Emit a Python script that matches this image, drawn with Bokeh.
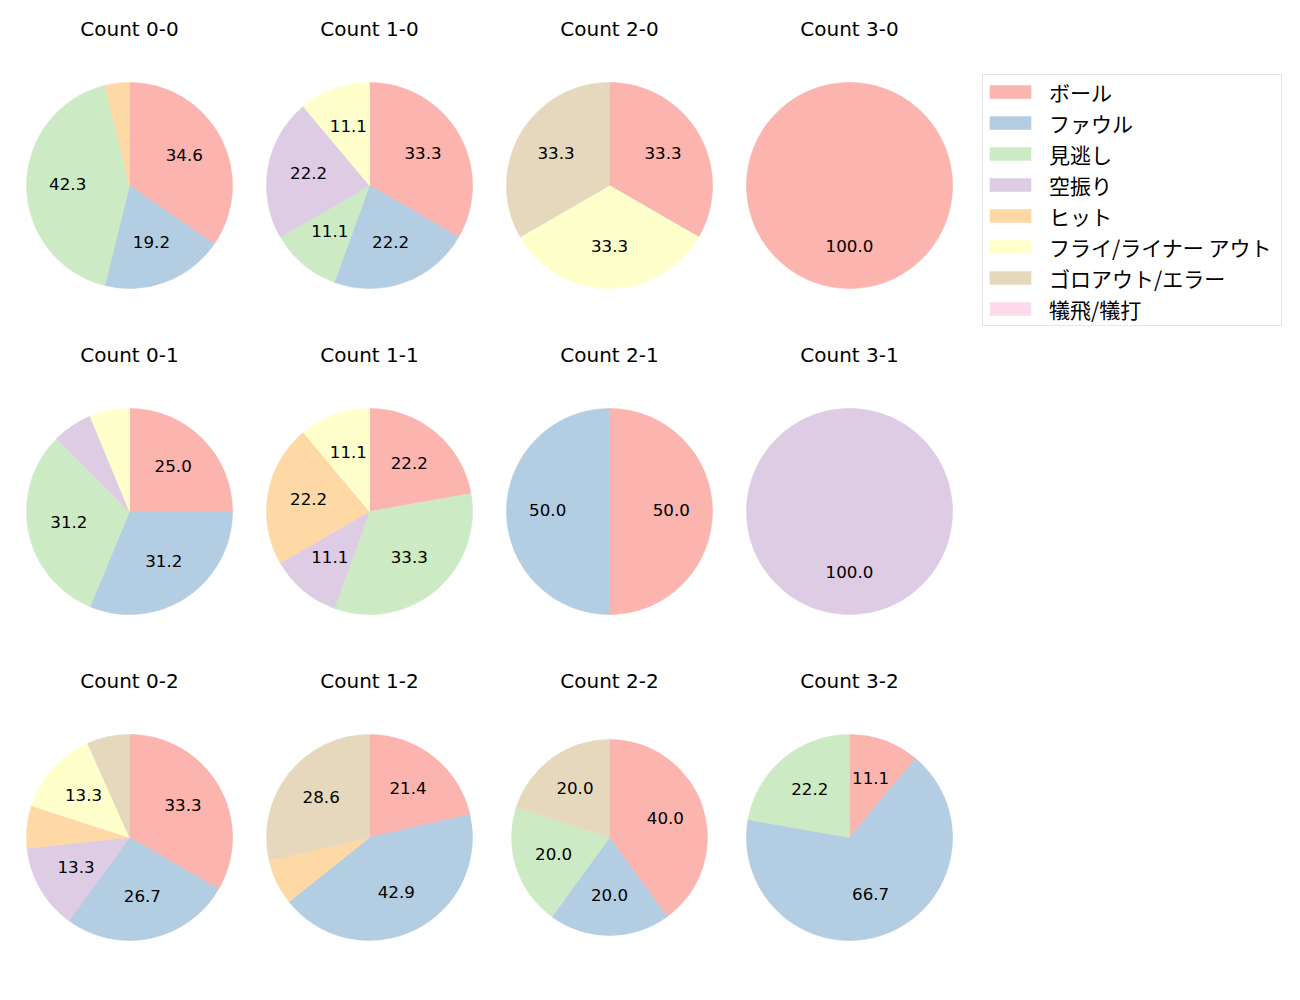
import math
from bokeh.plotting import figure
from bokeh.models import ColumnDataSource, Legend, LegendItem
from bokeh.layouts import gridplot
from bokeh.core.properties import value
from bokeh.embed import file_html
from bokeh.resources import INLINE

# ---------------- data ----------------
categories = ["ボール", "ファウル", "見逃し", "空振り", "ヒット",
              "フライ/ライナー アウト", "ゴロアウト/エラー", "犠飛/犠打"]
colors = ["#fbb4ae", "#b3cde3", "#ccebc5", "#decbe4",
          "#fed9a6", "#ffffcc", "#e5d8bd", "#fddaec"]

# pitch counts per category, in the order of `categories`
count_0_0 = [9, 5, 11, 0, 1, 0, 0, 0]
count_1_0 = [3, 2, 1, 2, 0, 1, 0, 0]
count_2_0 = [1, 0, 0, 0, 0, 1, 1, 0]
count_3_0 = [1, 0, 0, 0, 0, 0, 0, 0]
count_0_1 = [4, 5, 5, 1, 0, 1, 0, 0]
count_1_1 = [2, 0, 3, 1, 2, 1, 0, 0]
count_2_1 = [1, 1, 0, 0, 0, 0, 0, 0]
count_3_1 = [0, 0, 0, 1, 0, 0, 0, 0]
count_0_2 = [5, 4, 0, 2, 1, 2, 1, 0]
count_1_2 = [3, 6, 0, 0, 1, 0, 4, 0]
count_2_2 = [2, 1, 1, 0, 0, 0, 1, 0]
count_3_2 = [1, 6, 2, 0, 0, 0, 0, 0]

grid_titles = [["Count 0-0", "Count 1-0", "Count 2-0", "Count 3-0"],
               ["Count 0-1", "Count 1-1", "Count 2-1", "Count 3-1"],
               ["Count 0-2", "Count 1-2", "Count 2-2", "Count 3-2"]]
grid_values = [[count_0_0, count_1_0, count_2_0, count_3_0],
               [count_0_1, count_1_1, count_2_1, count_3_1],
               [count_0_2, count_1_2, count_2_2, count_3_2]]

# ---------------- style ----------------
LATIN_FONT = "DejaVu Sans"
JP_FONT = "Noto Sans CJK JP"
R_PX = 103.0           # pie radius in pixels
CELL_W, CELL_H = 240, 326
CX, CY = 129.0, 185.0  # pie centre inside a cell (px from left / top)
TITLE_OFFSET = 156.0   # px above pie centre
radius_scale = {"Count 2-2": 0.951}
PCT_MIN = 10.0


def make_pie(title, vals):
    p = figure(width=CELL_W, height=CELL_H,
               x_range=(-CX / R_PX, (CELL_W - CX) / R_PX),
               y_range=(-(CELL_H - CY) / R_PX, CY / R_PX),
               x_axis_type=None, y_axis_type=None,
               toolbar_location=None, output_backend="svg",
               min_border=0, outline_line_color=None,
               background_fill_color="white", border_fill_color="white")
    r = radius_scale.get(title, 1.0)
    total = float(sum(vals))
    starts, ends, cols, lx, ly, lt = [], [], [], [], [], []
    cum = 0.0
    for v, c in zip(vals, colors):
        if v <= 0:
            continue
        frac = v / total
        sweep = min(frac, 0.99995)
        starts.append(math.pi / 2 - 2 * math.pi * cum)
        ends.append(math.pi / 2 - 2 * math.pi * (cum + sweep))
        cols.append(c)
        mid = math.pi / 2 - 2 * math.pi * (cum + frac / 2)
        pct = frac * 100
        if pct >= PCT_MIN:
            lx.append(0.6 * r * math.cos(mid))
            ly.append(0.6 * r * math.sin(mid))
            lt.append(f"{pct:.1f}")
        cum += frac
    src = ColumnDataSource(dict(start=starts, end=ends, color=cols))
    p.wedge(x=0, y=0, radius=r, start_angle="start", end_angle="end",
            direction="clock", fill_color="color", line_color="color",
            line_width=0.6, source=src)
    p.text(x=lx, y=ly, text=lt, text_align="center", text_baseline="middle",
           text_font=value(LATIN_FONT), text_font_size="16.7px",
           text_color="black", y_offset=-1.5)
    p.text(x=[0], y=[TITLE_OFFSET / R_PX], text=[title], text_align="center",
           text_baseline="middle", text_font=value(LATIN_FONT),
           text_font_size="20px", text_color="black", y_offset=-1)
    return p


rows = []
for titles_row, values_row in zip(grid_titles, grid_values):
    rows.append([make_pie(t, v) for t, v in zip(titles_row, values_row)])

# legend panel
leg_fig = figure(width=1300 - 4 * CELL_W, height=CELL_H,
                 x_range=(0, 1), y_range=(0, 1),
                 x_axis_type=None, y_axis_type=None,
                 toolbar_location=None, output_backend="svg",
                 min_border=0, outline_line_color=None,
                 background_fill_color="white", border_fill_color="white")
items = []
for cat, col in zip(categories, colors):
    # zero-area proxy glyph that only supplies the legend swatch
    rr = leg_fig.quad(left=[0], right=[0], top=[0], bottom=[0],
                      fill_color=col, line_color=None)
    items.append(LegendItem(label=cat, renderers=[rr]))
legend = Legend(items=items, location=(22, 0), margin=0, padding=1,
                glyph_width=52, glyph_height=17, label_height=31,
                label_width=231, spacing=0, label_standoff=13,
                label_text_font=JP_FONT, label_text_font_size="21px",
                label_text_color="black",
                border_line_color="#cccccc", border_line_width=1,
                background_fill_color="white", background_fill_alpha=0.8)
leg_fig.add_layout(legend, "center")

rows[0].append(leg_fig)
rows[1].append(None)
rows[2].append(None)

grid = gridplot(rows, toolbar_location=None)

open("out.html", "w").write(file_html(grid, INLINE))
